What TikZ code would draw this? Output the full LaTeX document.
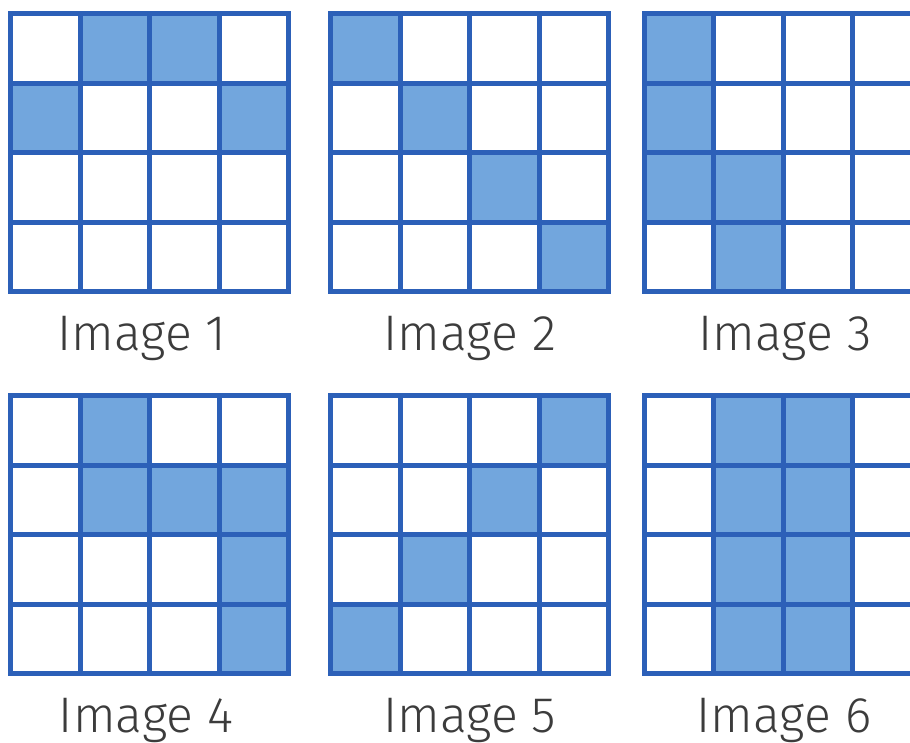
\documentclass[tikz,border=0pt]{standalone}
\usepackage{fontspec}
\setmainfont{Fira Sans}[UprightFont={* Light}]
\definecolor{gridblue}{RGB}{44,96,184}
\definecolor{cellblue}{RGB}{114,166,221}
\definecolor{labelgray}{RGB}{60,60,60}
\tikzset{
  gridline/.style={draw=gridblue, line width=5pt, line cap=rect},
  cellfill/.style={fill=cellblue},
  caption/.style={anchor=base, text=labelgray, font=\fontsize{50}{50}\selectfont, inner sep=0pt},
}
\newcommand\pixgrid[3]{%
  \foreach \c/\r in {#3} {
    \fill[cellfill] ({#1+\c*69.5},{#2+\r*69.5}) rectangle ++(69.5,69.5);
  }
  \foreach \i in {0,...,4} {
    \draw[gridline] ({#1+\i*69.5},#2) -- ({#1+\i*69.5},{#2+278});
    \draw[gridline] (#1,{#2+\i*69.5}) -- ({#1+278},{#2+\i*69.5});
  }
}
\begin{document}
\begin{tikzpicture}[x=1pt,y=-1pt]
\useasboundingbox (0,0) rectangle (910,742);
\clip (0,0) rectangle (910,742);
\fill[white] (0,0) rectangle (910,742);
% top row
\pixgrid{10.5}{13.5}{1/0,2/0,0/1,3/1}
\pixgrid{330.5}{13.5}{0/0,1/1,2/2,3/3}
\pixgrid{644}{13.5}{0/0,0/1,0/2,1/2,1/3}
% bottom row
\pixgrid{10.5}{395.5}{1/0,1/1,2/1,3/1,3/2,3/3}
\pixgrid{330.5}{395.5}{3/0,2/1,1/2,0/3}
\pixgrid{644}{395.5}{1/0,2/0,1/1,2/1,1/2,2/2,1/3,2/3}
% captions
\node[caption] (cap1) at (142,350) {Image 1};
\node[caption] (cap2) at (470,350) {Image 2};
\node[caption] (cap3) at (785,350) {Image 3};
\node[caption] (cap4) at (146,732) {Image 4};
\node[caption] (cap5) at (470,732) {Image 5};
\node[caption] (cap6) at (784,732) {Image 6};
\end{tikzpicture}
\end{document}
